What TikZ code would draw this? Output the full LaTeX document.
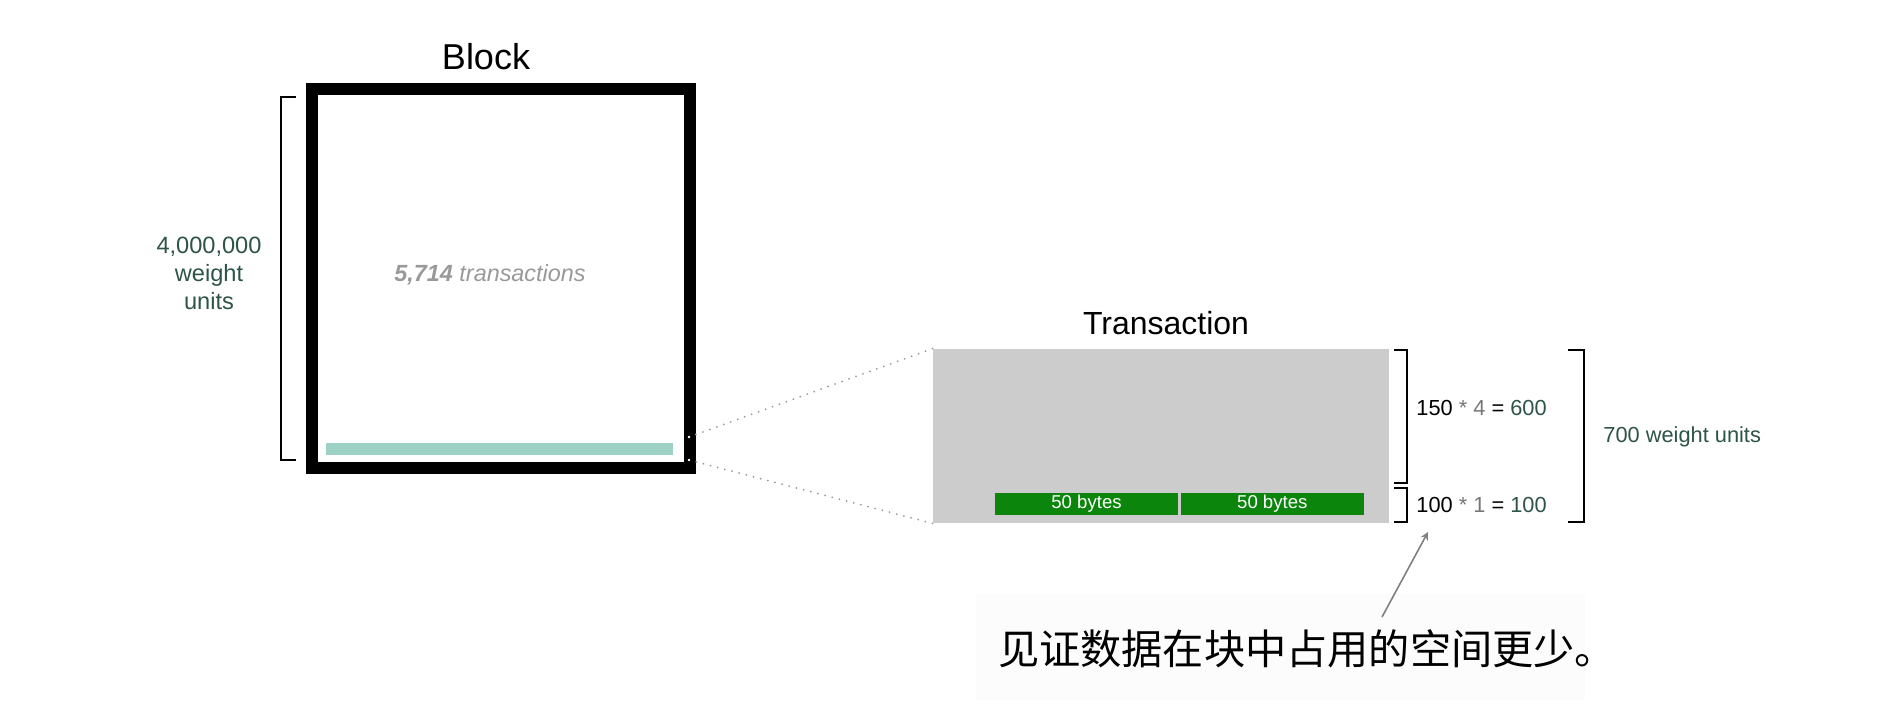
\documentclass[tikz,border=0pt]{standalone}
\usepackage{fontspec}
\setmainfont{Liberation Sans}
\newfontfamily\cjk{Noto Sans CJK SC}
\usepackage{tikz}
\usetikzlibrary{shapes.geometric, arrows, positioning}
\definecolor{unitgreen}{HTML}{2D5446}
\definecolor{txgray}{HTML}{CCCCCC}
\definecolor{wgreen}{HTML}{0B850B}
\definecolor{barteal}{HTML}{9DD1C4}
\definecolor{countgray}{HTML}{999999}
\definecolor{opgray}{HTML}{777777}
\tikzstyle{heading} = [inner sep=0pt, font=\fontsize{18}{21}\selectfont]
\tikzstyle{bytes} = [rectangle, fill=wgreen, text=white, minimum width=91.5pt, minimum height=11pt, inner sep=0pt, font=\fontsize{9.3}{11}\selectfont]
\tikzstyle{sumtext} = [anchor=west, inner sep=0pt, font=\fontsize{10.9}{13}\selectfont]
\tikzstyle{bracket} = [line width=1pt]
\tikzstyle{zoomline} = [gray!80, line width=1pt, line cap=round, dash pattern=on 0pt off 3.7pt]
\tikzstyle{arrow} = [gray, line width=0.8pt, ->, >=stealth]

\begin{document}
\begin{tikzpicture}[x=0.5pt, y=-0.5pt]
			\useasboundingbox (0,0) rectangle (1894,708);
			% block
			\node (block) [draw, line width=6pt, minimum width=189pt, minimum height=189.5pt, inner sep=0pt] at (501,278.5) {};
			\node (blocktitle) [heading] at (486,57) {Block};
			\node (txcount) [text=countgray, font=\fontsize{11.7}{14}\selectfont\itshape] at (490,275) {\textbf{5,714} transactions};
			\node (txbar) [fill=barteal, minimum width=173.5pt, minimum height=6pt, inner sep=0pt] at (499.5,449) {};
			\node (blockwu) [align=center, text=unitgreen, font=\fontsize{11.8}{14}\selectfont] at (209,273) {4,000,000\\weight\\units};
			\draw [bracket] (296,97) -- (281,97) -- (281,460) -- (296,460);
			% transaction
			\node (txbox) [fill=txgray, minimum width=228pt, minimum height=87pt, inner sep=0pt] at (1161,436) {};
			\node (txtitle) [heading, font=\fontsize{16}{19}\selectfont] at (1166,323) {Transaction};
			\node (wit1) [bytes] at (1086.5,504) {50 bytes};
			\node (wit2) [bytes, right=1pt of wit1] {50 bytes};
			\coordinate (zoomtop) at (689,437);
			\coordinate (zoombot) at (689,460);
			\draw [zoomline] (zoomtop) -- (txbox.north west);
			\draw [zoomline] (zoombot) -- (txbox.south west);
			\fill [white] (zoomtop) circle (0.7pt) (zoombot) circle (0.7pt);
			% weights
			\draw [bracket] (1394,350) -| (1407,483) -- (1394,483);
			\draw [bracket] (1394,488) -| (1407,522) -- (1394,522);
			\draw [bracket] (1568,350) -| (1584,522) -- (1568,522);
			\node (eqbase) [sumtext] at (1416,408) {150 \textcolor{opgray}{* 4} = \textcolor{unitgreen}{600}};
			\node (eqwit) [sumtext] at (1416,505) {100 \textcolor{opgray}{* 1} = \textcolor{unitgreen}{100}};
			\node (txwu) [sumtext, text=unitgreen] at (1603,437) {700 weight units};
			% note
			\fill [black!1] (976,594) rectangle (1585,700);
			\node (note) [font=\cjk\fontsize{20.6}{25}\selectfont] at (1307,649) {见证数据在块中占用的空间更少。};
			\coordinate (ptail) at (1382,617);
			\coordinate (phead) at (1428,532);
			\draw [arrow] (ptail) -- (phead);
		\end{tikzpicture}
\end{document}
